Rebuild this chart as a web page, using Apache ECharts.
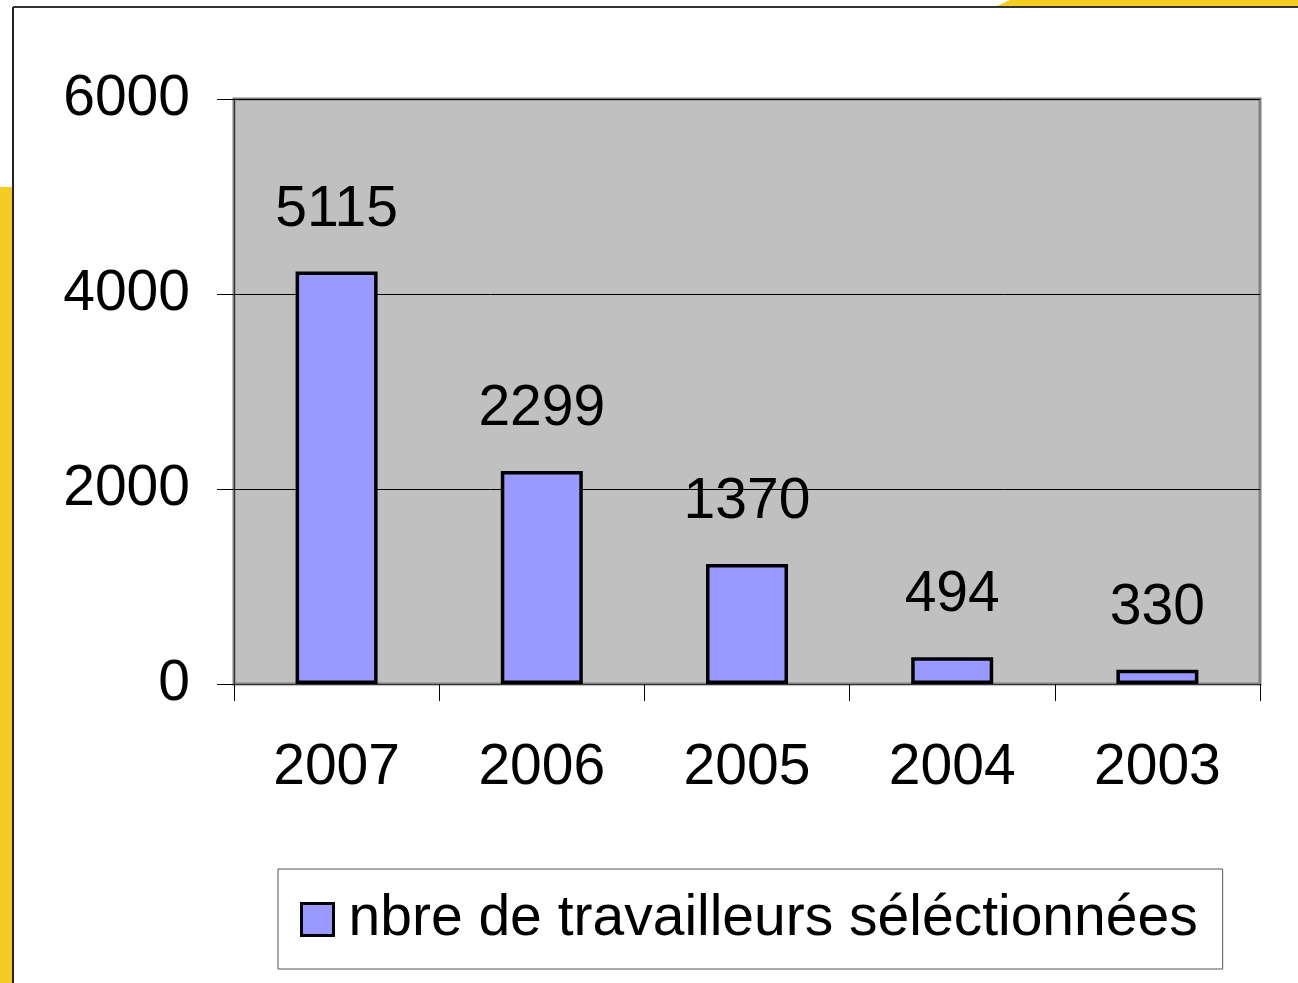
<!DOCTYPE html>
<html>
<head>
<meta charset="utf-8">
<script src="https://cdn.jsdelivr.net/npm/echarts@6/dist/echarts.min.js"></script>
<style>
  html, body { margin: 0; padding: 0; background: #fff; }
  #chart { width: 1298px; height: 983px; }
</style>
</head>
<body>
<div id="chart"></div>
<script>
  const years = ['2007', '2006', '2005', '2004', '2003'];
  // bar heights as drawn in the picture
  const barValues = [4230, 2185, 1230, 275, 145];
  // numbers written above the bars
  const labelValues = [5115, 2299, 1370, 494, 330];
  const yTicks = { min: 0, max: 6000, interval: 2000 };
  const seriesName = 'nbre de travailleurs séléctionnées';

  const font = '"Liberation Sans", Arial, sans-serif';
  const yellow = '#f5cc22';

  const chart = echarts.init(document.getElementById('chart'), null, { renderer: 'canvas' });

  chart.setOption({
    animation: false,
    backgroundColor: '#fff',
    textStyle: { fontFamily: font },
    graphic: [
      { type: 'rect', shape: { x: 0, y: 187, width: 13, height: 800 }, style: { fill: yellow }, silent: true },
      { type: 'polygon', shape: { points: [[997, 6], [1010, 0], [1298, 0], [1298, 6]] }, style: { fill: yellow }, silent: true },
      { type: 'line', shape: { x1: 13, y1: 7, x2: 1298, y2: 7 }, style: { stroke: '#333', lineWidth: 2 }, silent: true },
      { type: 'line', shape: { x1: 13, y1: 7, x2: 13, y2: 983 }, style: { stroke: '#222', lineWidth: 2 }, silent: true }
    ],
    grid: {
      left: 234,
      right: 38,
      top: 99,
      bottom: 299,
      show: true,
      backgroundColor: '#c0c0c0',
      borderColor: '#808080',
      borderWidth: 3
    },
    legend: {
      left: 278,
      top: 869,
      padding: [22, 25, 21, 22],
      backgroundColor: '#fff',
      borderColor: '#555',
      borderWidth: 1,
      borderRadius: 0,
      icon: 'rect',
      itemWidth: 32,
      itemHeight: 32,
      itemStyle: { borderColor: '#000', borderWidth: 3 },
      textStyle: { fontSize: 57, color: '#000', fontFamily: font, padding: [0, 0, 0, 10] },
      data: [seriesName]
    },
    xAxis: {
      type: 'category',
      data: years,
      axisLine: { lineStyle: { color: '#333', width: 1 } },
      axisTick: { show: true, length: 17, lineStyle: { color: '#000', width: 1 } },
      axisLabel: { fontSize: 57, color: '#000', margin: 56, fontFamily: font }
    },
    yAxis: {
      type: 'value',
      min: yTicks.min,
      max: yTicks.max,
      interval: yTicks.interval,
      axisLine: { show: true, lineStyle: { color: '#333', width: 1 } },
      axisTick: { show: true, length: 17, lineStyle: { color: '#000', width: 1 } },
      axisLabel: {
        fontSize: 57,
        color: '#000',
        margin: 44,
        fontFamily: font,
        formatter: function (v) { return String(v); }
      },
      splitLine: { show: true, lineStyle: { color: '#000', width: 1 } }
    },
    series: [
      {
        name: seriesName,
        type: 'bar',
        data: barValues,
        barWidth: 82,
        itemStyle: { color: '#9999ff', borderColor: '#000', borderWidth: 3.5 },
        label: {
          show: true,
          position: 'top',
          distance: 33,
          fontSize: 57,
          color: '#000',
          fontFamily: font,
          formatter: function (p) {
            return String(labelValues[p.dataIndex]);
          }
        }
      }
    ]
  });
</script>
</body>
</html>
